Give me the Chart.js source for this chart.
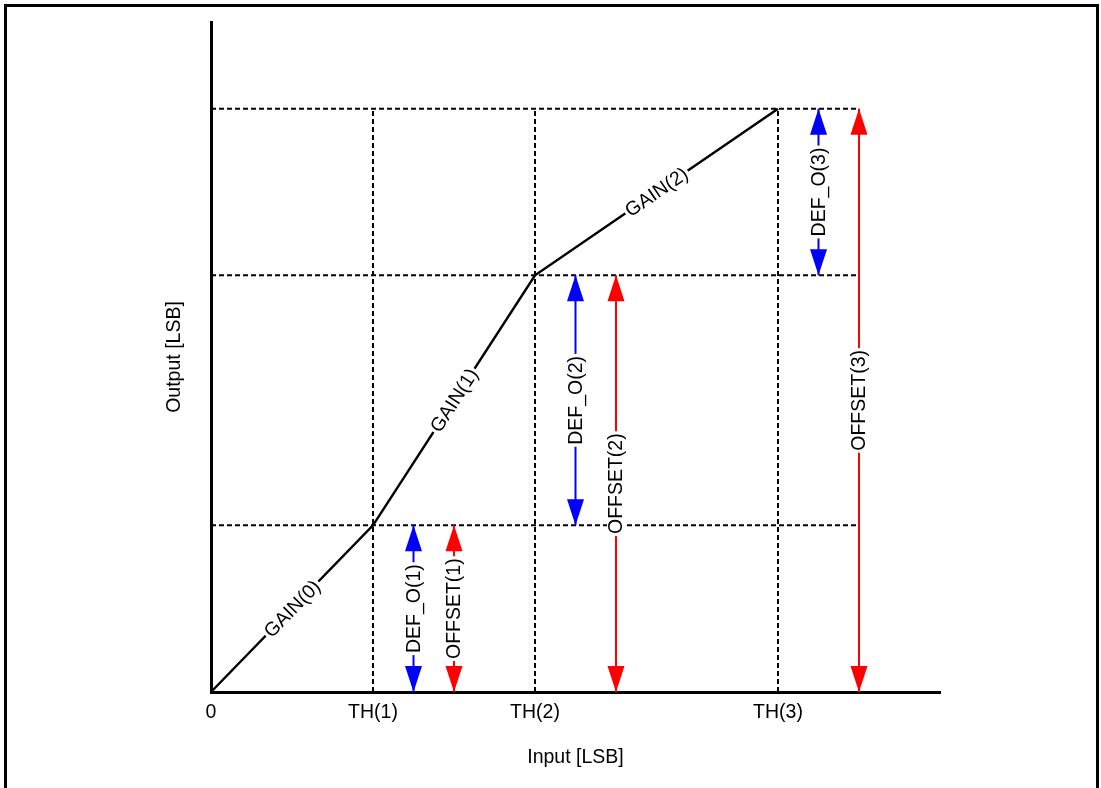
<!DOCTYPE html>
<html>
<head>
<meta charset="utf-8">
<title>Piecewise gain curve</title>
<script src="https://cdn.jsdelivr.net/npm/chart.js@4.4.1/dist/chart.umd.min.js"></script>
<style>
    html, body { margin: 0; padding: 0; background: #fff; }
    #wrap { position: relative; width: 1101px; height: 788px; }
</style>
</head>
<body>
<div id="wrap"><canvas id="gainChart"></canvas></div>
<script>
// Input thresholds and the output level reached at each of them
var thresholdValues = [0, 1, 2, 3.5];
var thresholdLabels = ['0', 'TH(1)', 'TH(2)', 'TH(3)'];
var outputLevels = [0, 1, 2.5, 3.5];
var gainLabels = ['GAIN(0)', 'GAIN(1)', 'GAIN(2)'];

// Dimension arrows: input position, start level, end level
var arrowNames = ['DEF_O(1)', 'OFFSET(1)', 'DEF_O(2)', 'OFFSET(2)', 'DEF_O(3)', 'OFFSET(3)'];
var arrowX = [1.25, 1.5, 2.25, 2.5, 3.75, 4];
var arrowFrom = [0, 0, 1, 0, 2.5, 0];
var arrowTo = [1, 1, 2.5, 2.5, 3.5, 3.5];
var arrowKind = ['def', 'offset', 'def', 'offset', 'def', 'offset'];

var xMax = 4.5;
var yMax = 4.02;

var FONT = '19.5px "Liberation Sans", Arial, sans-serif';
var arrowColors = { def: '#0000ff', offset: '#ff0000' };

document.addEventListener('DOMContentLoaded', function() {
    var datasets = [];
    var gridRight = Math.max.apply(null, arrowX);
    var topLevel = outputLevels[outputLevels.length - 1];

    // Dashed guide lines
    outputLevels.slice(1).forEach(function(level) {
        datasets.push({
            data: [{x: 0, y: level}, {x: gridRight, y: level}],
            borderColor: '#000', borderWidth: 2, borderDash: [5, 3],
            pointRadius: 0, order: 3
        });
    });
    thresholdValues.slice(1).forEach(function(th) {
        datasets.push({
            data: [{x: th, y: 0}, {x: th, y: topLevel}],
            borderColor: '#000', borderWidth: 2, borderDash: [5, 3],
            pointRadius: 0, order: 3
        });
    });

    // Arrow shafts
    arrowX.forEach(function(x, i) {
        datasets.push({
            data: [{x: x, y: arrowFrom[i]}, {x: x, y: arrowTo[i]}],
            borderColor: arrowColors[arrowKind[i]], borderWidth: 2,
            pointRadius: 0, order: 2
        });
    });

    // Transfer curve
    datasets.push({
        data: thresholdValues.map(function(th, i) { return {x: th, y: outputLevels[i]}; }),
        borderColor: '#000', borderWidth: 2.5,
        pointRadius: 0, order: 1
    });

    function drawTag(ctx, text, x, y, angle) {
        ctx.save();
        ctx.translate(x, y);
        ctx.rotate(angle);
        ctx.font = FONT;
        var w = ctx.measureText(text).width;
        ctx.fillStyle = '#fff';
        ctx.fillRect(-w / 2 - 2, -9, w + 4, 18);
        ctx.fillStyle = '#000';
        ctx.textAlign = 'center';
        ctx.textBaseline = 'middle';
        ctx.fillText(text, 0, 1);
        ctx.restore();
    }

    function drawHead(ctx, x, tipY, dir, color) {
        // dir = -1 points up, +1 points down
        ctx.beginPath();
        ctx.moveTo(x, tipY);
        ctx.lineTo(x - 8.5, tipY - dir * 26);
        ctx.lineTo(x + 8.5, tipY - dir * 26);
        ctx.closePath();
        ctx.fillStyle = color;
        ctx.fill();
    }

    var annotations = {
        id: 'annotations',
        afterDatasetsDraw: function(chart) {
            var ctx = chart.ctx;
            var xs = chart.scales.x, ys = chart.scales.y;

            // gain labels along each segment
            gainLabels.forEach(function(label, i) {
                var x1 = xs.getPixelForValue(thresholdValues[i]);
                var y1 = ys.getPixelForValue(outputLevels[i]);
                var x2 = xs.getPixelForValue(thresholdValues[i + 1]);
                var y2 = ys.getPixelForValue(outputLevels[i + 1]);
                drawTag(ctx, label, (x1 + x2) / 2, (y1 + y2) / 2, Math.atan2(y2 - y1, x2 - x1));
            });

            // arrows with their names
            arrowX.forEach(function(v, i) {
                var px = xs.getPixelForValue(v);
                var yTop = ys.getPixelForValue(arrowTo[i]);
                var yBot = ys.getPixelForValue(arrowFrom[i]);
                var color = arrowColors[arrowKind[i]];
                drawTag(ctx, arrowNames[i], px, (yTop + yBot) / 2, -Math.PI / 2);
                drawHead(ctx, px, yTop, -1, color);
                drawHead(ctx, px, yBot, 1, color);
            });

            // outer frame
            ctx.save();
            ctx.strokeStyle = '#000';
            ctx.lineWidth = 3;
            ctx.strokeRect(5.5, 5.5, 1092, 900);
            ctx.restore();
        }
    };

    new Chart(document.getElementById('gainChart'), {
        type: 'scatter',
        data: { datasets: datasets },
        options: {
            responsive: true,
            maintainAspectRatio: false,
            animation: false,
            events: [],
            showLine: true,
            clip: false,
            layout: { padding: { left: 0, top: 22, right: 161, bottom: 0 } },
            plugins: {
                legend: { display: false },
                tooltip: { enabled: false }
            },
            scales: {
                x: {
                    type: 'linear',
                    min: 0,
                    max: xMax,
                    afterFit: function(scale) { scale.height = 96; },
                    afterBuildTicks: function(scale) {
                        scale.ticks = thresholdValues.map(function(v) { return {value: v}; });
                    },
                    grid: { display: false, drawTicks: false },
                    border: { display: true, color: '#000', width: 3 },
                    ticks: {
                        autoSkip: false,
                        maxRotation: 0,
                        padding: 8.5,
                        color: '#000',
                        font: { family: '"Liberation Sans", Arial, sans-serif', size: 19.5 },
                        callback: function(value, index) { return thresholdLabels[index]; }
                    },
                    title: {
                        display: true,
                        text: 'Input [LSB]',
                        color: '#000',
                        font: { family: '"Liberation Sans", Arial, sans-serif', size: 19.5 },
                        padding: { top: 0, bottom: 19 }
                    }
                },
                y: {
                    type: 'linear',
                    min: 0,
                    max: yMax,
                    afterFit: function(scale) { scale.width = 211; },
                    grid: { display: false, drawTicks: false },
                    border: { display: true, color: '#000', width: 3 },
                    ticks: { display: false },
                    title: {
                        display: true,
                        text: 'Output [LSB]',
                        color: '#000',
                        font: { family: '"Liberation Sans", Arial, sans-serif', size: 19.5 },
                        padding: { top: 163, bottom: 0 }
                    }
                }
            }
        },
        plugins: [annotations]
    });
});
</script>
</body>
</html>
